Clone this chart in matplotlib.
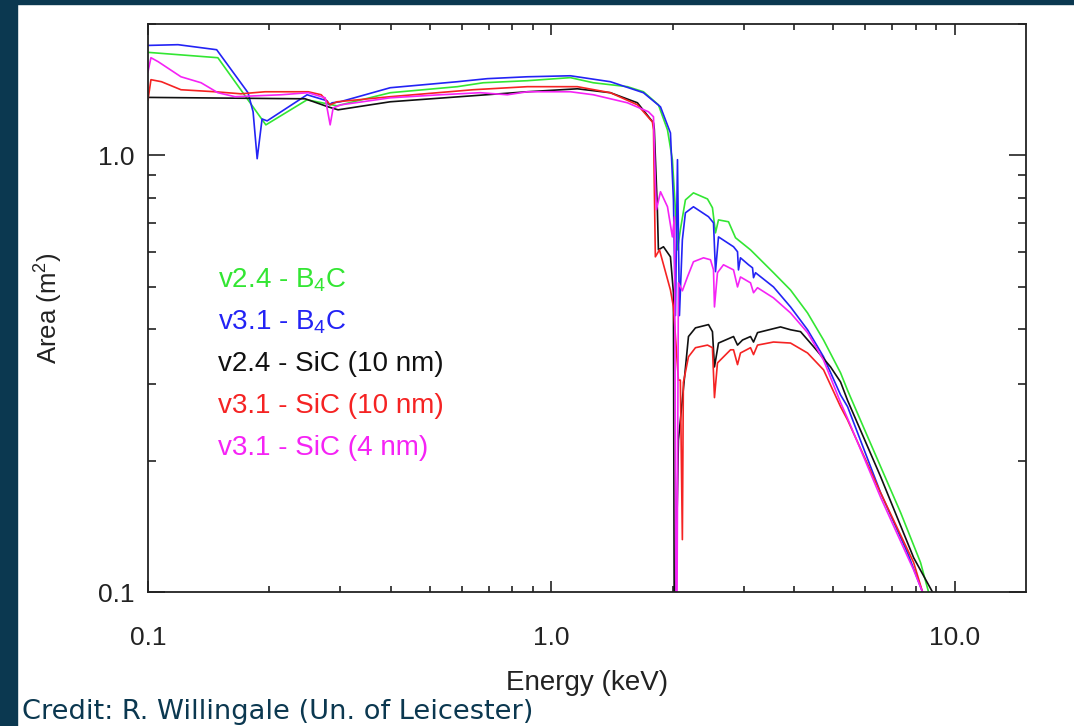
import numpy as np
import matplotlib
matplotlib.use("Agg")
import matplotlib.pyplot as plt
from matplotlib.ticker import FixedLocator, FixedFormatter, NullFormatter, LogLocator
from matplotlib.patches import Rectangle

plt.rcParams['font.family'] = ['Liberation Sans', 'DejaVu Sans']
plt.rcParams['mathtext.fontset'] = 'custom'
plt.rcParams['mathtext.rm'] = 'Liberation Sans'

# effective area curves, energy in keV, area in m^2
e_v24_b4c = [0.100, 0.149, 0.196, 0.248, 0.278, 0.294, 0.399, 0.585, 0.678, 0.872, 1.115,
             1.271, 1.544, 1.692, 1.843, 1.941, 1.996, 2.031, 2.055, 2.089, 2.150, 2.251,
             2.439, 2.509, 2.553, 2.597, 2.750, 2.862, 3.118, 3.555, 3.918, 4.318, 4.731,
             5.213, 5.426, 5.94, 6.552, 7.35, 8.23, 8.619, 9.2]
a_v24_b4c = [1.722, 1.674, 1.175, 1.341, 1.313, 1.299, 1.392, 1.437, 1.467, 1.483, 1.507,
             1.467, 1.437, 1.399, 1.306, 1.144, 0.978, 0.751, 0.608, 0.676, 0.791, 0.821,
             0.795, 0.759, 0.665, 0.712, 0.705, 0.648, 0.608, 0.539, 0.492, 0.436, 0.378,
             0.318, 0.290, 0.239, 0.194, 0.152, 0.117, 0.100, 0.085]

e_v31_b4c = [0.100, 0.1187, 0.148, 0.177, 0.1822, 0.1865, 0.1918, 0.1974, 0.248, 0.278,
             0.2813, 0.2862, 0.2995, 0.3986, 0.5845, 0.694, 0.872, 1.115, 1.401, 1.692,
             1.865, 1.974, 2.008, 2.031, 2.055, 2.078, 2.113, 2.150, 2.251, 2.453, 2.524,
             2.553, 2.597, 2.830, 2.895, 2.911, 2.944, 3.083, 3.154, 3.172, 3.208, 3.555,
             3.918, 4.318, 4.731, 5.213, 5.426, 6.552, 7.645, 8.329, 9.0]
a_v31_b4c = [1.786, 1.793, 1.746, 1.392, 1.259, 0.983, 1.212, 1.200, 1.377, 1.334,
             1.306, 1.320, 1.327, 1.429, 1.475, 1.499, 1.514, 1.522, 1.475, 1.392,
             1.292, 1.126, 0.791, 0.430, 0.978, 0.430, 0.641, 0.739, 0.763, 0.724, 0.701,
             0.542, 0.651, 0.618, 0.602, 0.547, 0.583, 0.562, 0.553, 0.525, 0.539, 0.500,
             0.450, 0.399, 0.346, 0.283, 0.266, 0.169, 0.123, 0.100, 0.080]

e_v24_sic10 = [0.100, 0.2453, 0.2797, 0.296, 0.3986, 0.640, 0.872, 1.160, 1.401, 1.635,
               1.792, 1.800, 1.832, 1.843, 1.897, 1.974, 2.008, 2.020, 2.031, 2.066, 2.188,
               2.277, 2.453, 2.509, 2.538, 2.597, 2.830, 2.895, 2.979, 3.118, 3.172, 3.245,
               3.700, 3.918, 4.149, 4.469, 4.924, 5.213, 5.426, 6.552, 7.912, 8.819, 9.4]
a_v24_sic10 = [1.358, 1.348, 1.292, 1.272, 1.327, 1.370, 1.399, 1.421, 1.392, 1.320,
               1.187, 1.150, 0.751, 0.608, 0.618, 0.586, 0.485, 0.050, 0.095, 0.223, 0.385,
               0.403, 0.410, 0.395, 0.328, 0.372, 0.385, 0.368, 0.378, 0.385, 0.374, 0.393,
               0.405, 0.399, 0.395, 0.365, 0.328, 0.303, 0.275, 0.184, 0.120, 0.100, 0.085]

e_v31_sic10 = [0.100, 0.1017, 0.108, 0.1207, 0.1467, 0.170, 0.1951, 0.2496, 0.2688, 0.2829,
               0.2944, 0.3986, 0.640, 0.872, 1.160, 1.401, 1.635, 1.781, 1.792, 1.811,
               1.854, 1.974, 2.008, 2.066, 2.089, 2.113, 2.125, 2.188, 2.277, 2.439, 2.509,
               2.538, 2.582, 2.782, 2.830, 2.895, 2.944, 3.118, 3.172, 3.245, 3.555, 3.918,
               4.318, 4.731, 5.213, 5.426, 6.552, 7.912, 8.329, 9.0]
a_v31_sic10 = [1.341, 1.491, 1.475, 1.414, 1.399, 1.384, 1.399, 1.399, 1.377, 1.306,
               1.327, 1.363, 1.414, 1.437, 1.437, 1.392, 1.306, 1.193, 1.144, 0.586,
               0.608, 0.492, 0.450, 0.306, 0.306, 0.132, 0.302, 0.346, 0.363, 0.368, 0.363,
               0.279, 0.335, 0.359, 0.359, 0.332, 0.353, 0.363, 0.350, 0.368, 0.374, 0.372,
               0.353, 0.323, 0.266, 0.248, 0.169, 0.117, 0.100, 0.080]

e_v31_sic4 = [0.100, 0.1017, 0.106, 0.1207, 0.1354, 0.149, 0.1644, 0.2138, 0.2496, 0.275,
              0.2829, 0.2878, 0.3012, 0.3986, 0.530, 0.6665, 0.778, 0.872, 1.115, 1.271,
              1.544, 1.741, 1.792, 1.811, 1.822, 1.865, 1.941, 1.996, 2.020, 2.043, 2.066,
              2.113, 2.175, 2.251, 2.384, 2.481, 2.524, 2.538, 2.582, 2.672, 2.830, 2.895,
              2.944, 3.118, 3.172, 3.245, 3.555, 3.918, 4.318, 4.731, 5.213, 5.426, 6.552,
              7.912, 8.329, 9.0]
a_v31_sic4 = [1.555, 1.674, 1.639, 1.514, 1.467, 1.392, 1.363, 1.377, 1.392, 1.355,
              1.175, 1.285, 1.306, 1.355, 1.377, 1.392, 1.377, 1.399, 1.399, 1.377,
              1.320, 1.259, 1.226, 0.866, 0.751, 0.826, 0.763, 0.651, 0.724, 0.050, 0.511,
              0.490, 0.527, 0.571, 0.583, 0.577, 0.547, 0.450, 0.539, 0.562, 0.547, 0.500,
              0.527, 0.511, 0.485, 0.498, 0.472, 0.436, 0.393, 0.340, 0.272, 0.250, 0.165,
              0.1125, 0.100, 0.080]

labels = [r'v2.4 - B$_{\mathregular{4}}$C', r'v3.1 - B$_{\mathregular{4}}$C',
          'v2.4 - SiC (10 nm)', 'v3.1 - SiC (10 nm)', 'v3.1 - SiC (4 nm)']
colors = ['#33e633', '#2323f5', '#111111', '#f52323', '#f523f5']

fig = plt.figure(figsize=(10.74, 7.26), dpi=100)
fig.patches.append(Rectangle((0, 0), 17 / 1074, 1, transform=fig.transFigure,
                             color='#0b3850', zorder=0))
fig.patches.append(Rectangle((0, 1 - 4 / 726), 1, 4 / 726, transform=fig.transFigure,
                             color='#0b3850', zorder=0))

ax = fig.add_axes([0.1378, 0.1842, 0.8172, 0.7828])
series = [(e_v24_b4c, a_v24_b4c), (e_v31_b4c, a_v31_b4c), (e_v24_sic10, a_v24_sic10),
          (e_v31_sic10, a_v31_sic10), (e_v31_sic4, a_v31_sic4)]
for (e, a), c in zip(series, colors):
    ax.plot(e, a, color=c, lw=1.2)

ax.set_xscale('log')
ax.set_yscale('log')
ax.set_xlim(0.1, 15.0)
ax.set_ylim(0.1, 2.0)

ax.xaxis.set_major_locator(FixedLocator([0.1, 1.0, 10.0]))
ax.xaxis.set_major_formatter(FixedFormatter(['0.1', '1.0', '10.0']))
ax.yaxis.set_major_locator(FixedLocator([0.1, 1.0]))
ax.yaxis.set_major_formatter(FixedFormatter(['0.1', '1.0']))
ax.xaxis.set_minor_locator(LogLocator(base=10, subs=np.arange(2, 10)))
ax.yaxis.set_minor_locator(LogLocator(base=10, subs=np.arange(2, 10)))
ax.xaxis.set_minor_formatter(NullFormatter())
ax.yaxis.set_minor_formatter(NullFormatter())

ax.tick_params(axis='both', which='both', direction='in', top=True, right=True,
               color='#222222', labelcolor='#222222', labelsize=19)
ax.tick_params(axis='x', which='major', length=8, width=1.2, pad=24)
ax.tick_params(axis='x', which='minor', length=4, width=1.2)
ax.tick_params(axis='y', which='major', length=12, width=1.2, pad=10)
ax.tick_params(axis='y', which='minor', length=6, width=1.2)
for s in ax.spines.values():
    s.set_linewidth(1.3)
    s.set_color('#222222')

ax.set_xlabel('Energy (keV)', fontsize=20, color='#222222', labelpad=15)
ax.set_ylabel('Area (m$^{\\mathregular{2}}$)', fontsize=18.5, color='#222222', labelpad=24)

ys = [0.5372, 0.4633, 0.3894, 0.3155, 0.2416]
for lab, c, y in zip(labels, colors, ys):
    ax.text(0.0798, y, lab, color=c, fontsize=20, transform=ax.transAxes, va='baseline')

fig.text(22 / 1074, 1 - 712 / 726, 'Credit: R. Willingale (Un. of Leicester)',
         family='DejaVu Sans', fontsize=19.6, color='#0b3850', va='center')

fig.savefig('out.png', dpi=100)
